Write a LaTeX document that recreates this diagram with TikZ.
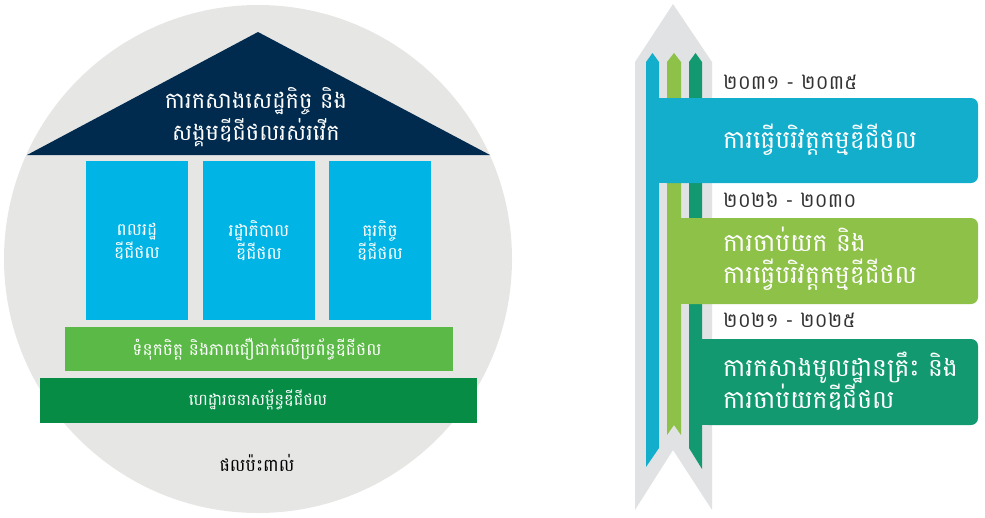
\documentclass[tikz,border=0pt]{standalone}
\usepackage{fontspec}
\newfontfamily\khmerfont[Script=Khmer]{Battambang}
\usetikzlibrary{calc}
\definecolor{discgrey}{RGB}{230,230,229}
\definecolor{roofnavy}{RGB}{0,42,78}
\definecolor{pillarblue}{RGB}{0,180,229}
\definecolor{barlight}{RGB}{91,186,71}
\definecolor{bardark}{RGB}{6,140,68}
\definecolor{arrowgrey}{RGB}{225,226,228}
\definecolor{stepblue}{RGB}{20,174,205}
\definecolor{steplight}{RGB}{141,193,71}
\definecolor{stepdark}{RGB}{18,153,111}
\definecolor{yeargrey}{RGB}{51,51,51}
\tikzset{
	khtext/.style={font=\khmerfont, text=white, align=center, inner sep=0pt},
	yeartext/.style={font=\khmerfont\fontsize{20}{24}\selectfont, text=yeargrey, anchor=west, inner sep=0pt},
	boxtext/.style={font=\khmerfont\fontsize{25}{32}\selectfont, text=white, align=left, anchor=west, inner sep=0pt}
}

\begin{document}
\begin{tikzpicture}[x=1pt, y=-1pt]
			\useasboundingbox (0, 0) rectangle (985, 517);
			%%%%% START %%%%%
			
			\fill[discgrey] (258, 259) circle (254pt);
			
			\fill[roofnavy] (27, 155) -- (258, 32) -- (490, 155) -- cycle;
			\node[khtext, font=\khmerfont\fontsize{22.5}{32}\selectfont] (roof) at (256, 117) {ការកសាងសេដ្ឋកិច្ច និង\\សង្គមឌីជីថលរស់រវើក};
			
			\fill[pillarblue] (86, 161) rectangle (188, 320);
			\fill[pillarblue] (203, 161) rectangle (315, 320);
			\fill[pillarblue] (329, 161) rectangle (431, 320);
			\node[khtext, font=\khmerfont\fontsize{17}{23}\selectfont] (citizen) at (137, 241) {ពលរដ្ឋ\\ឌីជីថល};
			\node[khtext, font=\khmerfont\fontsize{17}{23}\selectfont] (government) at (259, 241) {រដ្ឋាភិបាល\\ឌីជីថល};
			\node[khtext, font=\khmerfont\fontsize{17}{23}\selectfont] (business) at (380, 241) {ធុរកិច្ច\\ឌីជីថល};
			
			\fill[barlight] (65, 327) rectangle (453, 371);
			\node[khtext, font=\khmerfont\fontsize{17}{20}\selectfont] (trust) at (257, 349) {ទំនុកចិត្ត និងភាពជឿជាក់លើប្រព័ន្ធឌីជីថល};
			
			\fill[bardark] (40, 378) rectangle (477, 423);
			\node[khtext, font=\khmerfont\fontsize{16}{20}\selectfont] (infra) at (258, 400) {ហេដ្ឋារចនាសម្ព័ន្ធឌីជីថល};
			
			\node[khtext, text=black, font=\khmerfont\fontsize{17.5}{20}\selectfont] (impact) at (257, 463) {ផលប៉ះពាល់};
			
			% arrow
			\fill[arrowgrey] (635, 510) -- (635, 62) -- (673, 4) -- (712, 62) -- (712, 510) -- (673, 450) -- cycle;
			\fill[stepblue] (646, 467) -- (646, 62) -- (652.5, 53) -- (659, 62) -- (659, 448) -- cycle;
			\fill[steplight] (667, 435) -- (667, 62) -- (674, 53) -- (681, 62) -- (681, 435) -- (674, 425) -- cycle;
			\fill[stepdark] (689, 448) -- (689, 62) -- (695.5, 53) -- (702, 62) -- (702, 469) -- cycle;
			
			\fill[stepblue, rounded corners=7pt] (659, 98) rectangle (978, 183);
			\fill[stepblue] (659, 98) rectangle (900, 183);
			\fill[steplight, rounded corners=7pt] (681, 218) rectangle (978, 304);
			\fill[steplight] (681, 218) rectangle (900, 304);
			\fill[stepdark, rounded corners=7pt] (702, 339) rectangle (978, 425);
			\fill[stepdark] (702, 339) rectangle (900, 425);
			
			\node[yeartext] (yearthree) at (723, 82) {២០៣១ - ២០៣៥};
			\node[boxtext] (stagethree) at (723, 140) {ការធ្វើបរិវត្តកម្មឌីជីថល};
			\node[yeartext] (yeartwo) at (723, 200) {២០២៦ - ២០៣០};
			\node[boxtext] (stagetwo) at (723, 259) {ការចាប់យក និង\\ការធ្វើបរិវត្តកម្មឌីជីថល};
			\node[yeartext] (yearone) at (723, 320) {២០២១ - ២០២៥};
			\node[boxtext] (stageone) at (723, 381) {ការកសាងមូលដ្ឋានគ្រឹះ និង\\ការចាប់យកឌីជីថល};
			
			%%%%% END %%%%%
\end{tikzpicture}
\end{document}
